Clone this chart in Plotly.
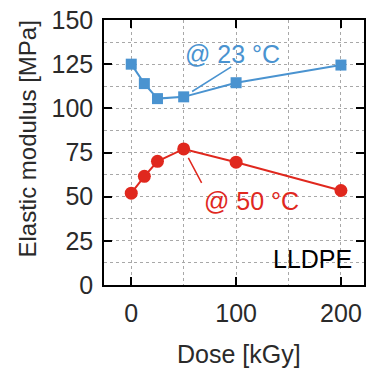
import plotly.graph_objects as go

# Irradiation dose [kGy]
dose = [0, 12.5, 25, 50, 100, 200]
# Elastic modulus [MPa] at two test temperatures
modulus_23C = [125, 114, 105.5, 106.5, 114.5, 124.5]
modulus_50C = [52, 61.5, 70, 77, 69.5, 53.5]

x_ticks = [0, 100, 200]
y_ticks = [0, 25, 50, 75, 100, 125, 150]

BLUE = "#4a93d0"
RED = "#e0281e"
GRID = "#a8a8a8"
TEXT = "#2a2a2a"
FONT = "Liberation Sans, Arial, sans-serif"

fig = go.Figure()
fig.add_trace(go.Scatter(
    x=dose, y=modulus_23C, mode="lines+markers",
    line=dict(color=BLUE, width=2),
    marker=dict(symbol="square", size=11, color=BLUE),
    showlegend=False,
))
fig.add_trace(go.Scatter(
    x=dose, y=modulus_50C, mode="lines+markers",
    line=dict(color=RED, width=2),
    marker=dict(symbol="circle", size=13, color=RED),
    showlegend=False,
))

axis_common = dict(
    showline=True, linecolor="black", linewidth=1.5, mirror="allticks",
    ticks="inside", ticklen=8, tickwidth=1.5, tickcolor="black",
    showgrid=True, gridcolor=GRID, griddash="dot", gridwidth=1,
    zeroline=False,
    tickfont=dict(family=FONT, size=25, color=TEXT),
)

fig.update_xaxes(
    range=[-26, 222], tickvals=x_ticks,
    minor=dict(dtick=50, tick0=0, showgrid=True, gridcolor=GRID,
               griddash="dot", ticks=""),
    ticklabelstandoff=5,
    **axis_common,
)
fig.update_yaxes(
    range=[0, 150], tickvals=y_ticks,
    minor=dict(dtick=12.5, tick0=0, showgrid=True, gridcolor=GRID,
               griddash="dot", ticks=""),
    ticklabelstandoff=4,
    **axis_common,
)

annotations = [
    # axis titles
    dict(text="Dose [kGy]", xref="paper", yref="paper", x=0.52, y=-0.26,
         xanchor="center", yanchor="middle", showarrow=False,
         font=dict(family=FONT, size=25, color=TEXT)),
    dict(text="Elastic modulus [MPa]", xref="paper", yref="paper",
         x=-0.295, y=0.55, textangle=-90, xanchor="center", yanchor="middle",
         showarrow=False, font=dict(family=FONT, size=24, color=TEXT)),
    # series labels
    dict(text="@ 23 °C", xref="x", yref="y", x=97, y=130.7,
         showarrow=False, font=dict(family=FONT, size=25, color=BLUE)),
    dict(text="@ 50 °C", xref="x", yref="y", x=114.5, y=47.5,
         showarrow=False, font=dict(family=FONT, size=25, color=RED)),
    # leader lines to the 50 kGy points
    dict(text=" ", xref="x", yref="y", x=dose[3], y=modulus_23C[3],
         ax=49, ay=-31, showarrow=True, arrowhead=0, arrowwidth=1.5,
         arrowcolor=BLUE, standoff=10, font=dict(size=1)),
    dict(text=" ", xref="x", yref="y", x=dose[3], y=modulus_50C[3],
         ax=19, ay=36, showarrow=True, arrowhead=0, arrowwidth=1.5,
         arrowcolor=RED, standoff=10, font=dict(size=1)),
    # material label
    dict(text="LLDPE", xref="x", yref="y", x=212, y=5.5,
         xanchor="right", yanchor="bottom", showarrow=False,
         font=dict(family=FONT, size=25, color="black")),
]

fig.update_layout(
    width=371, height=370,
    margin=dict(l=104, r=5, t=20, b=85),
    paper_bgcolor="white", plot_bgcolor="white",
    annotations=annotations,
)

fig.write_html("out.html")
